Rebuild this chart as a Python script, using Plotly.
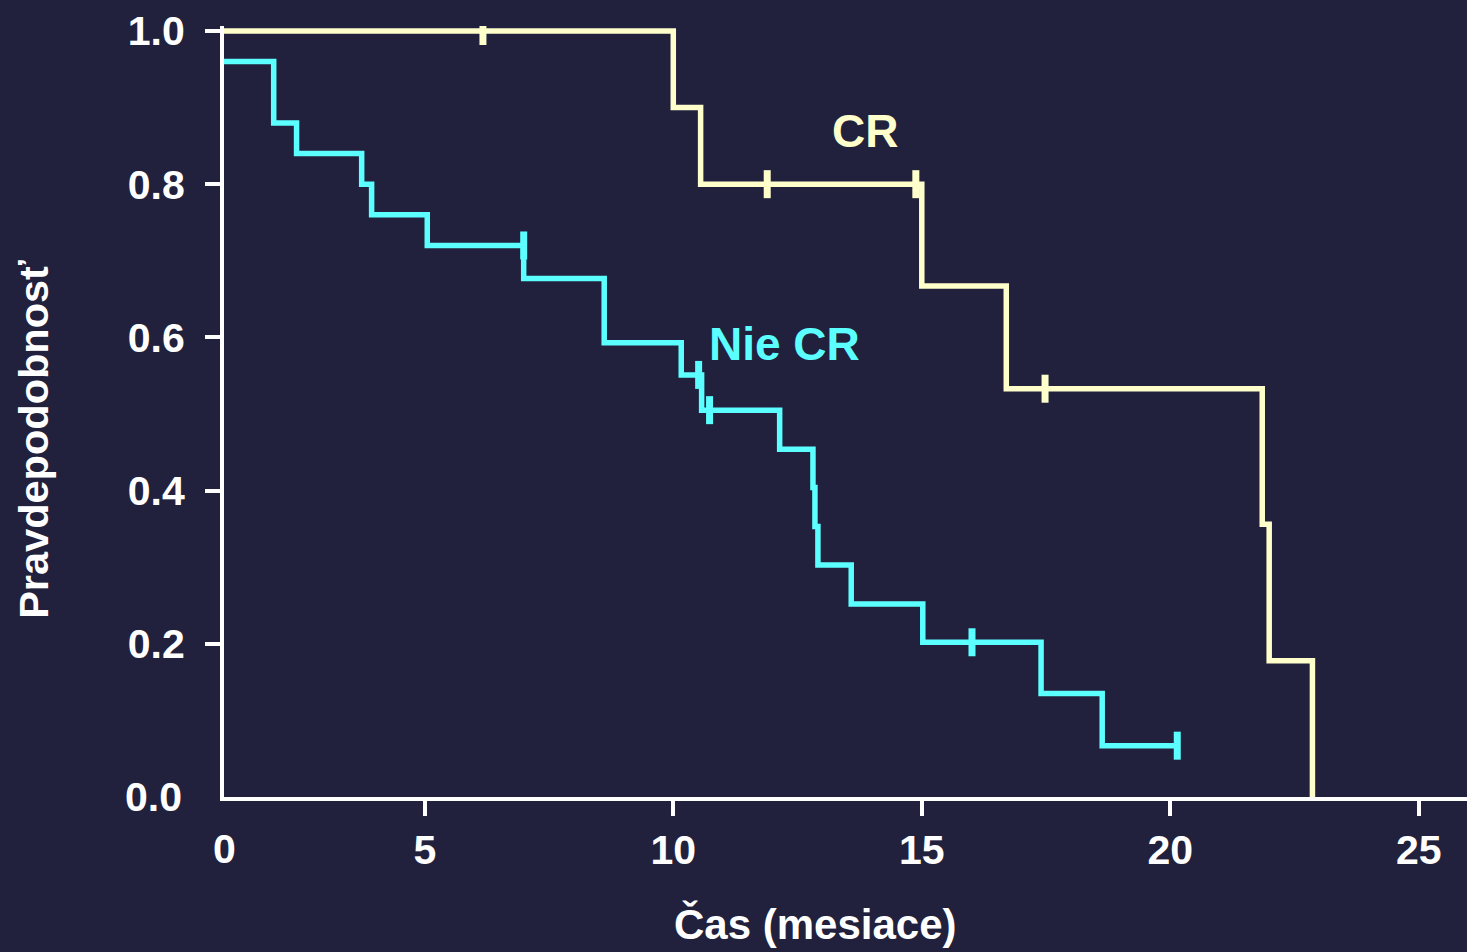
import plotly.graph_objects as go

# Kaplan-Meier survival estimates (time in months)
cr_time = [0.0, 10.0, 10.55, 15.0, 16.7, 21.85, 21.99, 22.86]
cr_surv = [1.0, 0.9, 0.8, 0.667, 0.533, 0.356, 0.178, 0.0]
cr_cens_time = [6.17, 11.89, 14.88, 17.48]
cr_cens_surv = [1.0, 0.8, 0.8, 0.533]

nie_time = [0.0, 1.96, 2.42, 3.73, 3.93, 5.05, 6.99, 8.61, 10.16, 10.57,
            12.14, 12.81, 12.85, 12.91, 13.58, 15.02, 17.40, 18.63, 20.14]
nie_surv = [0.96, 0.88, 0.84, 0.80, 0.76, 0.72, 0.677, 0.593, 0.551, 0.505,
            0.454, 0.404, 0.353, 0.303, 0.252, 0.202, 0.135, 0.067, 0.067]
nie_cens_time = [6.99, 10.51, 10.73, 16.01, 20.14]
nie_cens_surv = [0.72, 0.551, 0.505, 0.202, 0.067]

x_tick_vals = [5, 10, 15, 20, 25]
x_tick_text = ["5", "10", "15", "20", "25"]
y_tick_vals = [0.2, 0.4, 0.6, 0.8, 1.0]
y_tick_text = ["0.2", "0.4", "0.6", "0.8", "1.0"]

BG = "#21213d"
YELLOW = "#ffffcc"
CYAN = "#5cffff"
WHITE = "#ffffff"
FONT = "Liberation Sans, Arial, sans-serif"

X_ORIGIN = 0.96
X_MAX = 25.97

fig = go.Figure()

for t, s, ct, cs, col in [
    (cr_time, cr_surv, cr_cens_time, cr_cens_surv, YELLOW),
    (nie_time, nie_surv, nie_cens_time, nie_cens_surv, CYAN),
]:
    fig.add_trace(go.Scatter(
        x=t, y=s, mode="lines", line=dict(shape="hv", color=col, width=5.5),
        showlegend=False, hoverinfo="skip"))
    fig.add_trace(go.Scatter(
        x=ct, y=cs, mode="markers",
        marker=dict(symbol="line-ns", size=20, line=dict(color=col, width=7)),
        showlegend=False, hoverinfo="skip"))

axis_common = dict(
    showline=True, linecolor=WHITE, linewidth=4,
    ticks="outside", ticklen=15, tickwidth=4, tickcolor=WHITE,
    showgrid=False, zeroline=False,
    tickfont=dict(family=FONT, size=41, color=WHITE, weight="bold"),
)

fig.update_xaxes(range=[X_ORIGIN, X_MAX], tickvals=x_tick_vals,
                 ticktext=x_tick_text, ticklabelstandoff=-1, **axis_common)
fig.update_yaxes(range=[0, 1.0065], tickvals=y_tick_vals,
                 ticktext=y_tick_text, ticklabelstandoff=12, **axis_common)

label_font = dict(family=FONT, size=41, color=WHITE, weight="bold")
annotations = [
    # origin labels (no tick marks at the origin)
    dict(x=X_ORIGIN, y=-0.068, xref="x", yref="paper", text="0",
         showarrow=False, xanchor="center", yanchor="middle", font=label_font),
    dict(x=-0.0322, y=0, xref="paper", yref="y", text="0.0",
         showarrow=False, xanchor="right", yanchor="middle", font=label_font),
    # axis titles
    dict(x=0.4755, y=-0.1645, xref="paper", yref="paper", text="Čas (mesiace)",
         showarrow=False, xanchor="center", yanchor="middle",
         font=dict(family=FONT, size=42, color=WHITE, weight="bold")),
    dict(x=-0.1535, y=0.4635, xref="paper", yref="paper", text="Pravdepodobnosť",
         textangle=-90, showarrow=False, xanchor="center", yanchor="middle",
         font=dict(family=FONT, size=41.5, color=WHITE, weight="bold")),
    # series labels
    dict(x=13.85, y=0.870, xref="x", yref="y", text="CR", showarrow=False,
         xanchor="center", yanchor="middle",
         font=dict(family=FONT, size=46, color=YELLOW, weight="bold")),
    dict(x=12.24, y=0.591, xref="x", yref="y", text="Nie CR", showarrow=False,
         xanchor="center", yanchor="middle",
         font=dict(family=FONT, size=46, color=CYAN, weight="bold")),
]

fig.update_layout(
    width=1467, height=952,
    margin=dict(l=224, r=0, t=26, b=155, pad=0),
    paper_bgcolor=BG, plot_bgcolor=BG,
    annotations=annotations,
    showlegend=False,
)

fig.write_html("out.html", config={"displayModeBar": False})
